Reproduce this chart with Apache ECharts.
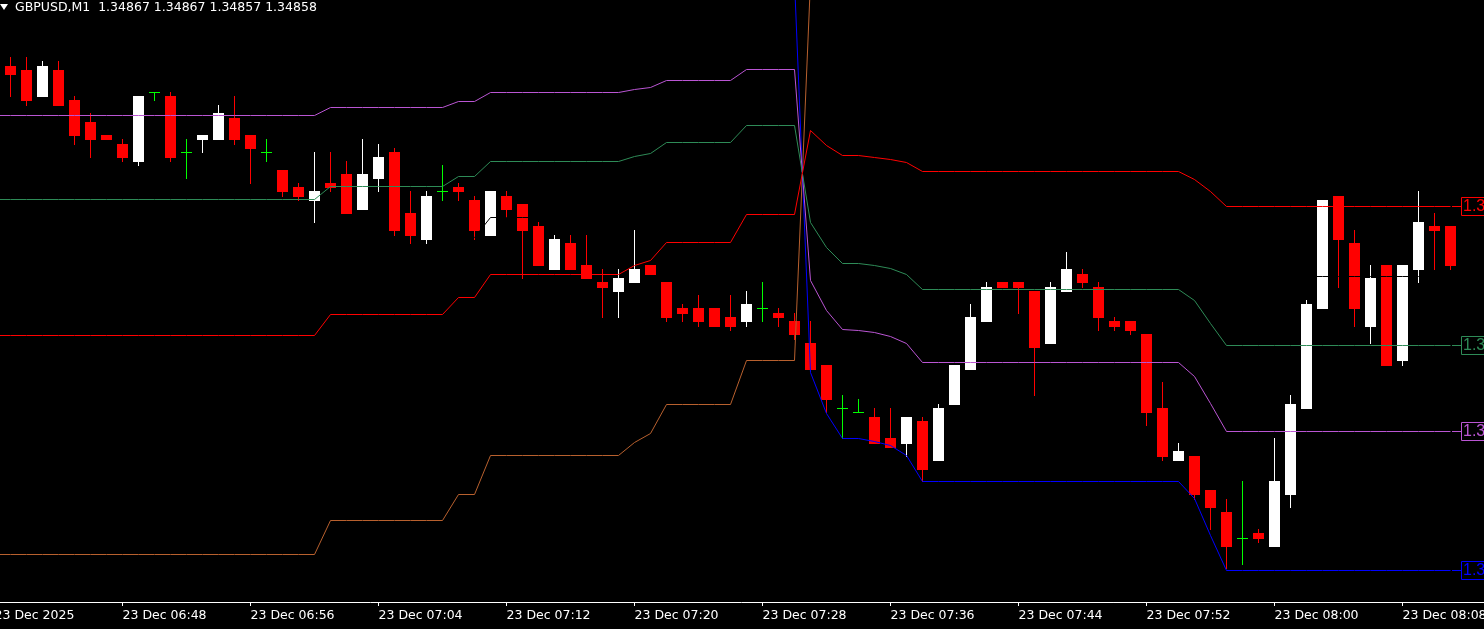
<!DOCTYPE html>
<html><head><meta charset="utf-8">
<script src="https://cdn.jsdelivr.net/npm/echarts@6/dist/echarts.min.js"></script>
<style>html,body{margin:0;padding:0;background:#000;overflow:hidden}#c{width:1484px;height:629px}</style>
</head><body><div id="c"></div>
<script>
// ---------- data ----------
const symbol = 'GBPUSD';
const timeframe = 'M1';
const tickBars = [-1, 7, 15, 23, 31, 39, 47, 55, 63, 71, 79, 87];
const tickLabels = ['23 Dec 2025','23 Dec 06:48','23 Dec 06:56','23 Dec 07:04','23 Dec 07:12','23 Dec 07:20',
  '23 Dec 07:28','23 Dec 07:36','23 Dec 07:44','23 Dec 07:52','23 Dec 08:00','23 Dec 08:08'];

// candles, bar 0 = 06:41 ... bar 90 = 08:11
const openP = [
1.34904,1.34903,1.34897,1.34903,1.34896,1.34891,1.34888,1.34886,1.34882,1.34898,
1.34897,1.34884,1.34887,1.34887,1.34892,1.34888,1.34884,1.34880,1.34876,1.34873,
1.34877,1.34879,1.34871,1.34878,1.34884,1.34870,1.34864,1.34875,1.34876,1.34873,
1.34865,1.34874,1.34872,1.34867,1.34857,1.34863,1.34858,1.34854,1.34852,1.34854,
1.34858,1.34854,1.34848,1.34848,1.34848,1.34846,1.34845,1.34848,1.34847,1.34845,
1.34840,1.34835,1.34825,1.34824,1.34823,1.34818,1.34817,1.34822,1.34813,1.34826,
1.34834,1.34845,1.34854,1.34854,1.34852,1.34840,1.34852,1.34856,1.34853,1.34845,
1.34845,1.34842,1.34825,1.34813,1.34814,1.34806,1.34801,1.34795,1.34796,1.34793,
1.34805,1.34825,1.34848,1.34874,1.34863,1.34844,1.34858,1.34836,1.34857,1.34867,
1.34867];
const highP = [
1.34906,1.34906,1.34905,1.34905,1.34897,1.34893,1.34888,1.34887,1.34897,1.34898,
1.34898,1.34887,1.34888,1.34895,1.34897,1.34888,1.34887,1.34880,1.34877,1.34884,
1.34884,1.34882,1.34887,1.34886,1.34885,1.34875,1.34875,1.34881,1.34877,1.34874,
1.34875,1.34875,1.34872,1.34868,1.34865,1.34865,1.34865,1.34857,1.34857,1.34866,
1.34858,1.34854,1.34849,1.34851,1.34848,1.34851,1.34852,1.34854,1.34848,1.34847,
1.34845,1.34835,1.34828,1.34827,1.34825,1.34825,1.34823,1.34823,1.34826,1.34835,
1.34849,1.34854,1.34854,1.34854,1.34852,1.34854,1.34861,1.34857,1.34854,1.34846,
1.34845,1.34842,1.34831,1.34817,1.34814,1.34806,1.34804,1.34808,1.34797,1.34818,
1.34828,1.34850,1.34873,1.34874,1.34866,1.34858,1.34858,1.34858,1.34875,1.34870,
1.34867];
const lowP = [
1.34897,1.34895,1.34897,1.34895,1.34886,1.34883,1.34887,1.34882,1.34881,1.34896,
1.34882,1.34878,1.34884,1.34887,1.34886,1.34877,1.34882,1.34874,1.34873,1.34868,
1.34875,1.34870,1.34871,1.34875,1.34865,1.34863,1.34863,1.34873,1.34873,1.34864,
1.34865,1.34869,1.34855,1.34858,1.34857,1.34857,1.34855,1.34846,1.34846,1.34854,
1.34856,1.34845,1.34845,1.34844,1.34844,1.34843,1.34844,1.34845,1.34844,1.34841,
1.34834,1.34824,1.34818,1.34824,1.34817,1.34816,1.34814,1.34808,1.34813,1.34826,
1.34834,1.34845,1.34853,1.34847,1.34828,1.34840,1.34852,1.34853,1.34843,1.34843,
1.34842,1.34821,1.34813,1.34813,1.34804,1.34797,1.34788,1.34789,1.34794,1.34793,
1.34802,1.34825,1.34848,1.34853,1.34844,1.34840,1.34835,1.34835,1.34854,1.34857,
1.34857];
const closeP = [
1.34902,1.34896,1.34904,1.34895,1.34888,1.34887,1.34887,1.34883,1.34897,1.34898,
1.34883,1.34884,1.34888,1.34893,1.34887,1.34885,1.34884,1.34875,1.34874,1.34875,
1.34876,1.34870,1.34879,1.34883,1.34866,1.34865,1.34874,1.34875,1.34875,1.34866,
1.34875,1.34871,1.34866,1.34858,1.34864,1.34857,1.34855,1.34853,1.34855,1.34857,
1.34856,1.34846,1.34847,1.34845,1.34844,1.34844,1.34849,1.34848,1.34846,1.34842,
1.34834,1.34827,1.34825,1.34824,1.34817,1.34816,1.34823,1.34811,1.34825,1.34835,
1.34846,1.34853,1.34853,1.34853,1.34839,1.34853,1.34857,1.34854,1.34846,1.34844,
1.34843,1.34824,1.34814,1.34815,1.34805,1.34802,1.34793,1.34795,1.34795,1.34808,
1.34826,1.34849,1.34873,1.34864,1.34848,1.34855,1.34835,1.34858,1.34868,1.34866,
1.34858];

// indicator levels, one value per bar starting at bar -1 (06:40, just off the left edge)
const levelBlue = [1.349238,
1.349238,1.349238,1.349238,1.349238,1.349238,1.349238,1.349238,1.349238,1.349238,1.349238,
1.349238,1.349238,1.349238,1.349238,1.349238,1.349238,1.349238,1.349238,1.349238,1.349238,
1.349238,1.349238,1.349238,1.349238,1.349238,1.349238,1.349238,1.349238,1.349238,1.349238,
1.349238,1.349238,1.349238,1.349238,1.349238,1.349238,1.349238,1.349238,1.349238,1.349238,
1.349238,1.349238,1.349238,1.349238,1.349238,1.349238,1.349238,1.349238,1.349238,1.349238,
1.348331,1.348238,1.348180,1.348180,1.348172,1.348162,1.348141,1.348081,1.348081,1.348081,
1.348081,1.348081,1.348081,1.348081,1.348081,1.348081,1.348081,1.348081,1.348081,1.348081,
1.348081,1.348081,1.348081,1.348081,1.348041,1.347955,1.347874,1.347874,1.347874,1.347874,
1.347874,1.347874,1.347874,1.347874,1.347874,1.347874,1.347874,1.347874,1.347874,1.347874,
1.347874];
const levelPurple = [1.348925,
1.348925,1.348925,1.348925,1.348925,1.348925,1.348925,1.348925,1.348925,1.348925,1.348925,
1.348925,1.348925,1.348925,1.348925,1.348925,1.348925,1.348925,1.348925,1.348925,1.348925,
1.348943,1.348943,1.348943,1.348943,1.348943,1.348943,1.348943,1.348943,1.348957,1.348957,
1.348979,1.348979,1.348979,1.348979,1.348979,1.348979,1.348979,1.348979,1.348979,1.348986,
1.348990,1.349006,1.349006,1.349006,1.349006,1.349006,1.349031,1.349031,1.349031,1.349031,
1.348545,1.348474,1.348430,1.348429,1.348423,1.348415,1.348399,1.348355,1.348355,1.348355,
1.348355,1.348355,1.348355,1.348355,1.348355,1.348355,1.348355,1.348355,1.348355,1.348355,
1.348355,1.348355,1.348355,1.348355,1.348323,1.348259,1.348195,1.348195,1.348195,1.348195,
1.348195,1.348195,1.348195,1.348195,1.348195,1.348195,1.348195,1.348195,1.348195,1.348195,
1.348195];
const levelGreen = [1.348731,
1.348731,1.348731,1.348731,1.348731,1.348731,1.348731,1.348731,1.348731,1.348731,1.348731,
1.348731,1.348731,1.348731,1.348731,1.348731,1.348731,1.348731,1.348731,1.348731,1.348731,
1.348761,1.348761,1.348761,1.348761,1.348761,1.348761,1.348761,1.348761,1.348784,1.348784,
1.348818,1.348818,1.348818,1.348818,1.348818,1.348818,1.348818,1.348818,1.348818,1.348830,
1.348838,1.348863,1.348863,1.348863,1.348863,1.348863,1.348903,1.348903,1.348903,1.348903,
1.348677,1.348620,1.348584,1.348583,1.348578,1.348571,1.348558,1.348524,1.348524,1.348524,
1.348524,1.348524,1.348524,1.348524,1.348524,1.348524,1.348524,1.348524,1.348524,1.348524,
1.348524,1.348524,1.348524,1.348524,1.348497,1.348446,1.348394,1.348394,1.348394,1.348394,
1.348394,1.348394,1.348394,1.348394,1.348394,1.348394,1.348394,1.348394,1.348394,1.348394,
1.348394];
const levelBlack = [1.348575,
1.348575,1.348575,1.348575,1.348575,1.348575,1.348575,1.348575,1.348575,1.348575,1.348575,
1.348575,1.348575,1.348575,1.348575,1.348575,1.348575,1.348575,1.348575,1.348575,1.348575,
1.348614,1.348614,1.348614,1.348614,1.348614,1.348614,1.348614,1.348614,1.348644,1.348644,
1.348689,1.348689,1.348689,1.348689,1.348689,1.348689,1.348689,1.348689,1.348689,1.348704,
1.348714,1.348747,1.348747,1.348747,1.348747,1.348747,1.348799,1.348799,1.348799,1.348799,
1.348784,1.348738,1.348709,1.348708,1.348704,1.348697,1.348687,1.348660,1.348660,1.348660,
1.348660,1.348660,1.348660,1.348660,1.348660,1.348660,1.348660,1.348660,1.348660,1.348660,
1.348660,1.348660,1.348660,1.348660,1.348637,1.348598,1.348554,1.348554,1.348554,1.348554,
1.348554,1.348554,1.348554,1.348554,1.348554,1.348554,1.348554,1.348554,1.348554,1.348554,
1.348554];
const levelRed = [1.348418,
1.348418,1.348418,1.348418,1.348418,1.348418,1.348418,1.348418,1.348418,1.348418,1.348418,
1.348418,1.348418,1.348418,1.348418,1.348418,1.348418,1.348418,1.348418,1.348418,1.348418,
1.348466,1.348466,1.348466,1.348466,1.348466,1.348466,1.348466,1.348466,1.348504,1.348504,
1.348559,1.348559,1.348559,1.348559,1.348559,1.348559,1.348559,1.348559,1.348559,1.348578,
1.348590,1.348632,1.348632,1.348632,1.348632,1.348632,1.348696,1.348696,1.348696,1.348696,
1.348891,1.348856,1.348834,1.348833,1.348829,1.348824,1.348816,1.348797,1.348797,1.348797,
1.348797,1.348797,1.348797,1.348797,1.348797,1.348797,1.348797,1.348797,1.348797,1.348797,
1.348797,1.348797,1.348797,1.348797,1.348778,1.348750,1.348715,1.348715,1.348715,1.348715,
1.348715,1.348715,1.348715,1.348715,1.348715,1.348715,1.348715,1.348715,1.348715,1.348715,
1.348715];
const levelBrown = [1.347912,
1.347912,1.347912,1.347912,1.347912,1.347912,1.347912,1.347912,1.347912,1.347912,1.347912,
1.347912,1.347912,1.347912,1.347912,1.347912,1.347912,1.347912,1.347912,1.347912,1.347912,
1.347989,1.347989,1.347989,1.347989,1.347989,1.347989,1.347989,1.347989,1.348050,1.348050,
1.348140,1.348140,1.348140,1.348140,1.348140,1.348140,1.348140,1.348140,1.348140,1.348170,
1.348190,1.348257,1.348257,1.348257,1.348257,1.348257,1.348360,1.348360,1.348360,1.348360,
1.349237,1.349238,1.349238,1.349237,1.349236,1.349233,1.349232,1.349240,1.349240,1.349240,
1.349240,1.349240,1.349240,1.349240,1.349240,1.349240,1.349240,1.349240,1.349240,1.349240,
1.349240,1.349240,1.349240,1.349240,1.349233,1.349242,1.349235,1.349235,1.349235,1.349235,
1.349235,1.349235,1.349235,1.349235,1.349235,1.349235,1.349235,1.349235,1.349235,1.349235,
1.349235];
const LEVEL_FIRST_BAR = -1;

// ---------- layout / style ----------
const W = 1484, H = 629;
const BAR_PX = 16;
const GRID_LEFT = -5.5, GRID_RIGHT = 0, GRID_TOP = 0, GRID_BOTTOM = 27;
const X_MIN = -1;
const X_MAX = X_MIN + (W - GRID_LEFT - GRID_RIGHT) / BAR_PX;
const PX_PER_PRICE = 433000;
const Y_MAX = 1.349192;
const PLOT_H = H - GRID_TOP - GRID_BOTTOM;
const Y_MIN = Y_MAX - PLOT_H / PX_PER_PRICE;

const COL = {bull:'#FFFFFF', bear:'#FF0000', doji:'#00FF00',
  blue:'#0000FF', purple:'#BA55D3', green:'#2E8B57', black:'#000000', red:'#FF0000', brown:'#B8602E'};

const snap = y => Math.round(y - 0.5) + 0.5;

const candleData = openP.map((o, i) => [i, o, highP[i], lowP[i], closeP[i]]);

function renderCandle(params, api) {
  const i = api.value(0), o = api.value(1), h = api.value(2), l = api.value(3), c = api.value(4);
  const pO = api.coord([i, o]);
  const cx = pO[0];
  const yO = Math.round(pO[1]);
  const yC = Math.round(api.coord([i, c])[1]);
  const yH = Math.round(api.coord([i, h])[1]);
  const yL = Math.round(api.coord([i, l])[1]);
  const col = o === c ? COL.doji : (c > o ? COL.bull : COL.bear);
  const top = Math.min(yO, yC), bot = Math.max(yO, yC);
  return {type:'group', children:[
    {type:'rect', shape:{x:Math.floor(cx), y:yH, width:1, height:yL - yH + 1}, style:{fill:col}},
    {type:'rect', shape:{x:Math.round(cx - 5.5), y:top, width:11, height:bot - top + 1}, style:{fill:col}}
  ]};
}

function levelSeries(name, arr, color) {
  return {
    type:'custom', name, z:5, silent:true, clip:true,
    data: arr.map((v, i) => [i + LEVEL_FIRST_BAR, v]),
    encode:{x:0, y:1},
    renderItem(params, api) {
      const i = params.dataIndex;
      if (i >= arr.length - 1) return;
      const p1 = api.coord([i + LEVEL_FIRST_BAR, arr[i]]);
      const p2 = api.coord([i + 1 + LEVEL_FIRST_BAR, arr[i + 1]]);
      return {type:'line', shape:{x1:p1[0], y1:snap(p1[1]), x2:p2[0], y2:snap(p2[1])},
        style:{stroke:color, lineWidth:1}};
    }
  };
}

const last = openP.length - 1;
const endLabels = [
  {arr: levelRed, color: COL.red},
  {arr: levelGreen, color: COL.green},
  {arr: levelPurple, color: COL.purple},
  {arr: levelBlue, color: COL.blue}
];

const chart = echarts.init(document.getElementById('c'), null, {renderer:'canvas', width:W, height:H});
chart.setOption({
  animation:false,
  backgroundColor:'#000000',
  grid:{left:GRID_LEFT, right:GRID_RIGHT, top:GRID_TOP, bottom:GRID_BOTTOM, containLabel:false, outerBoundsMode:'none'},
  xAxis:{
    type:'value', min:X_MIN, max:X_MAX,
    axisLine:{show:true, onZero:false, lineStyle:{color:'#FFFFFF', width:1}},
    axisTick:{show:true, customValues:tickBars, length:4, lineStyle:{color:'#FFFFFF', width:1}},
    axisLabel:{show:true, customValues:tickBars, color:'#FFFFFF', fontFamily:'DejaVu Sans', fontSize:12.5,
      align:'left', margin:7, showMinLabel:true, hideOverlap:false,
      formatter: v => tickLabels[tickBars.indexOf(Math.round(v))] || ''},
    splitLine:{show:false}
  },
  yAxis:{type:'value', min:Y_MIN, max:Y_MAX, show:false, splitLine:{show:false}},
  graphic:[
    {type:'polygon', shape:{points:[[0,4],[8,4],[4,10]]}, style:{fill:'#FFFFFF'}, z:100},
    {type:'text', left:15, top:1, z:100,
      style:{text: symbol + ',' + timeframe + '  ' + [openP[last], highP[last], lowP[last], closeP[last]].map(v => v.toFixed(5)).join(' '),
        fill:'#FFFFFF', font:'12.5px "DejaVu Sans"'}}
  ],
  series:[
    {type:'custom', name:'candles', z:2, silent:true, clip:true, data:candleData,
      encode:{x:0, y:[1,2,3,4]}, renderItem:renderCandle},
    levelSeries('brown', levelBrown, COL.brown),
    levelSeries('blue', levelBlue, COL.blue),
    levelSeries('purple', levelPurple, COL.purple),
    levelSeries('green', levelGreen, COL.green),
    levelSeries('black', levelBlack, COL.black),
    levelSeries('red', levelRed, COL.red),
    {type:'custom', name:'labels', z:6, silent:true, clip:false,
      data: endLabels.map(d => [last, d.arr[d.arr.length - 1]]),
      encode:{x:0, y:1},
      renderItem(params, api) {
        const d = endLabels[params.dataIndex];
        const p = api.coord([api.value(0), api.value(1)]);
        const y = snap(p[1]), x = p[0];
        return {type:'group', children:[
          {type:'line', shape:{x1:x + 1.5, y1:y, x2:x + 11, y2:y}, style:{stroke:d.color, lineWidth:1}},
          {type:'rect', shape:{x:x + 11, y:y - 9, width:70, height:18}, style:{fill:'#000000', stroke:d.color, lineWidth:1}},
          {type:'text', x:x + 12.5, y:y + 0.5, style:{text:api.value(1).toFixed(5), fill:d.color,
            font:'16px "Liberation Sans"', align:'left', verticalAlign:'middle'}}
        ]};
      }
    }
  ]
});
</script>
</body></html>
